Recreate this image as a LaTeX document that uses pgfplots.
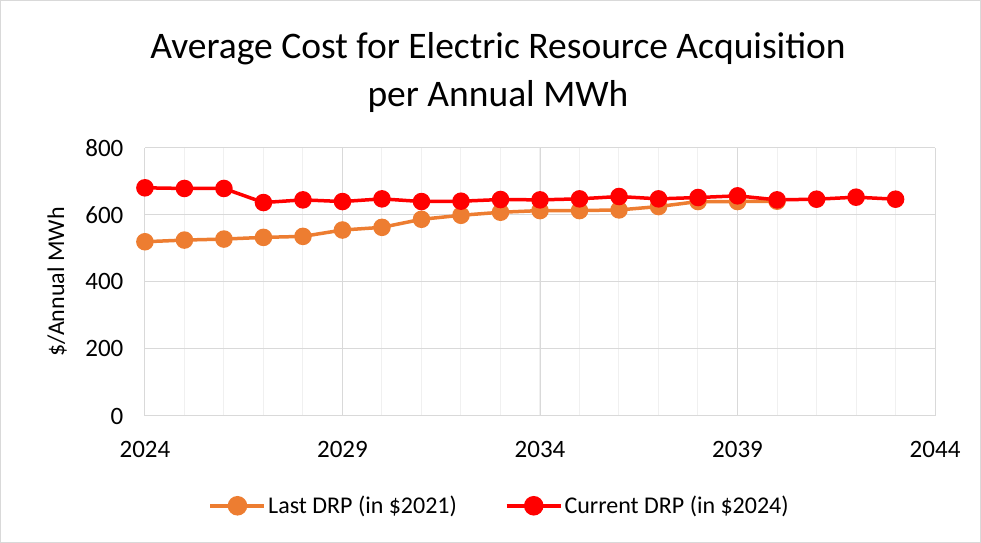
\documentclass[border=0pt]{standalone}
\usepackage{pgfplots}
\pgfplotsset{compat=1.18}
\usepackage{fontspec}
\setmainfont{Carlito}
\definecolor{lastc}{RGB}{237,125,49}
\definecolor{curc}{RGB}{255,0,0}
\definecolor{gridc}{RGB}{217,217,217}
\definecolor{mgridc}{RGB}{240,240,240}
\begin{document}
\begin{tikzpicture}[x=1pt,y=1pt]
\path[draw=gridc,line width=0.8pt] (0.5,0.5) rectangle (980.5,542.5);
\node[font=\fontsize{37.5}{48}\selectfont,align=center] at (498,470) {Average Cost for Electric Resource Acquisition\\per Annual MWh};
\begin{axis}[
  at={(145pt,127pt)}, anchor=south west,
  scale only axis, width=790pt, height=268pt,
  xmin=2024, xmax=2044, ymin=0, ymax=800,
  xtick={2024,2029,2034,2039,2044},
  minor xtick={2025,...,2043},
  ytick={0,200,400,600,800},
  grid=both,
  major grid style={gridc,line width=1pt},
  minor grid style={mgridc,line width=1pt},
  axis x line*=bottom, axis y line*=left,
  x axis line style={draw=gridc,line width=1pt,-},
  y axis line style={draw=none},
  major tick length=0pt, minor tick length=0pt,
  tick label style={font=\fontsize{25}{30}\selectfont},
  /pgf/number format/assume math mode=true,
  xticklabel style={/pgf/number format/1000 sep={},yshift=-22pt},
  yticklabel style={xshift=-18pt},
  ylabel={\$/Annual MWh},
  every axis y label/.style={at={(axis description cs:-0.111,0.5)},rotate=90,anchor=center,font=\fontsize{24}{28}\selectfont},
  legend style={at={(0.449,-0.335)},anchor=center,draw=none,legend columns=2,
    font=\fontsize{24}{28}\selectfont,/tikz/every even column/.append style={column sep=46pt}},
  legend image code/.code={\draw[#1,line width=3.5pt] (0pt,0pt) -- (54pt,0pt); \fill[#1] (27pt,0pt) circle (8pt);},
]
\addplot[lastc,line width=3.5pt,mark=*,mark size=7pt] coordinates {
(2024,520)(2025,525)(2026,528)(2027,533)(2028,536)(2029,555)(2030,563)(2031,587)(2032,599)(2033,608)(2034,613)(2035,613)(2036,615)(2037,625)(2038,640)(2039,640)(2040,641)};
\addlegendentry{Last DRP (in \$2021)}
\addplot[curc,line width=3.5pt,mark=*,mark size=7pt] coordinates {
(2024,681)(2025,679)(2026,679)(2027,637)(2028,645)(2029,640)(2030,648)(2031,640)(2032,641)(2033,646)(2034,645)(2035,648)(2036,655)(2037,648)(2038,652)(2039,657)(2040,645)(2041,647)(2042,653)(2043,647)};
\addlegendentry{Current DRP (in \$2024)}
\end{axis}
\end{tikzpicture}
\end{document}
